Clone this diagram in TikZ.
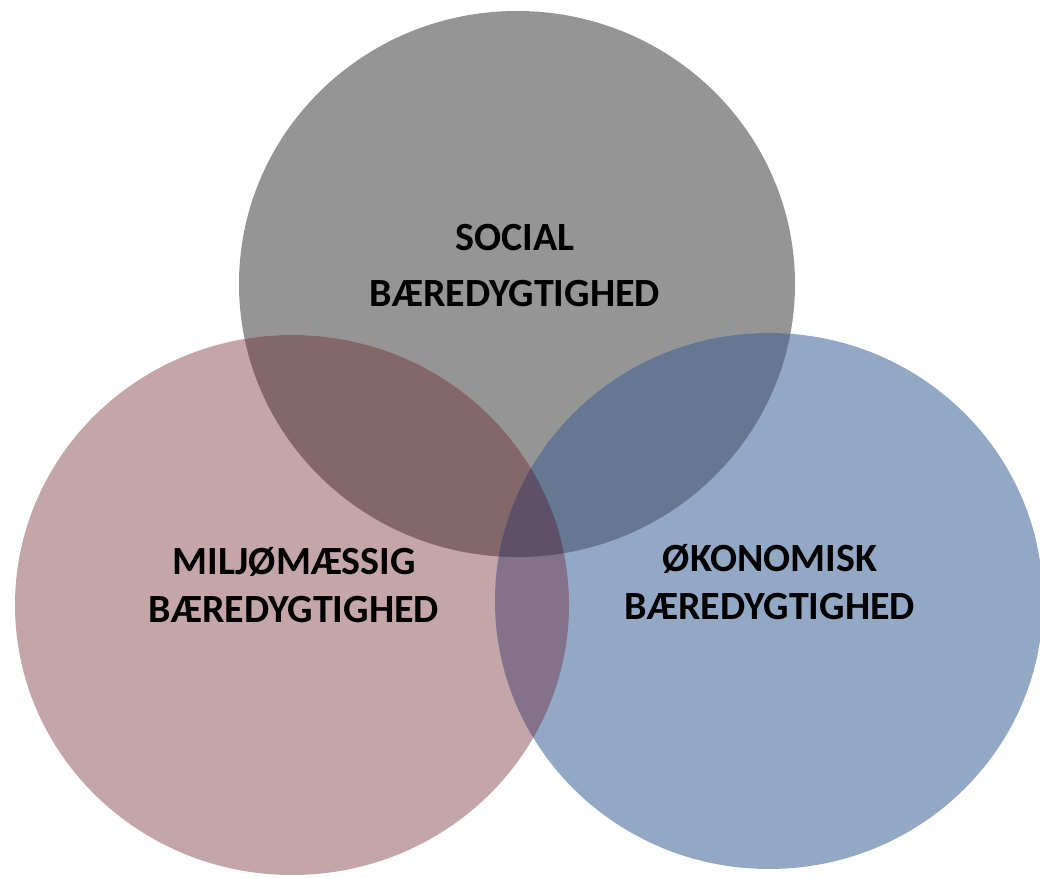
\documentclass[tikz,border=0pt]{standalone}
\usepackage{fontspec}
\setmainfont{Carlito}
\usepackage{tikz}
\usetikzlibrary{positioning}
\definecolor{social}{HTML}{959595}
\definecolor{miljo}{HTML}{C4A6A9}
\definecolor{okonomi}{HTML}{92A8C4}
\definecolor{social-miljo}{HTML}{846869}
\definecolor{social-okonomi}{HTML}{667792}
\definecolor{miljo-okonomi}{HTML}{84728A}
\definecolor{all-three}{HTML}{5E5068}
\tikzset{label text/.style={font=\bfseries\fontsize{30}{36}\selectfont, align=center, inner sep=0pt}}
\newcommand{\socialring}{(social-c) ellipse [x radius=278, y radius=273]}
\newcommand{\miljoring}{(miljo-c) ellipse [x radius=277, y radius=270]}
\newcommand{\okonomiring}{(okonomi-c) ellipse [x radius=274, y radius=268]}

\begin{document}
\begin{tikzpicture}[x=0.75pt, y=0.75pt]
    \useasboundingbox (0,0) rectangle (1040,878);
    \coordinate (social-c) at (517,594);
    \coordinate (miljo-c) at (292,273);
    \coordinate (okonomi-c) at (769,277);

    \fill[social] \socialring;
    \fill[miljo] \miljoring;
    \fill[okonomi] \okonomiring;
    \begin{scope}
      \clip \miljoring;
      \fill[miljo-okonomi] \okonomiring;
    \end{scope}
    \begin{scope}
      \clip \socialring;
      \fill[social-miljo] \miljoring;
      \fill[social-okonomi] \okonomiring;
      \clip \miljoring;
      \fill[all-three] \okonomiring;
    \end{scope}

    \node[label text, font=\bfseries\fontsize{30}{42}\selectfont] (social) at (515,612) {SOCIAL\\BÆREDYGTIGHED};
    \node[label text] (miljo) at (294,293) {MILJØMÆSSIG\\BÆREDYGTIGHED};
    \node[label text] (okonomi) at (770,296) {ØKONOMISK\\BÆREDYGTIGHED};
  \end{tikzpicture}
\end{document}
